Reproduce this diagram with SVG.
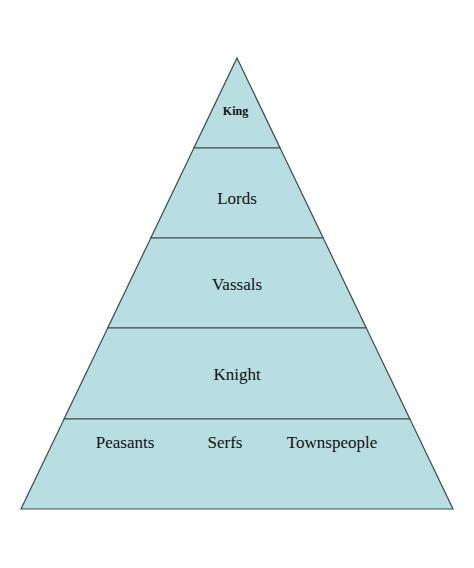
<svg xmlns="http://www.w3.org/2000/svg" width="474" height="568" viewBox="0 0 474 568">
<style>
.lvl{fill:#b9dee1;stroke:#3a4a4c;stroke-width:1.2}
.t{font-family:"Liberation Serif","Times New Roman",serif;font-size:17px;fill:#111;text-anchor:middle}
.k{font-size:12px;font-weight:bold}
</style>
<rect width="474" height="568" fill="#fff"/>
<g id="king"><polygon class="lvl" points="237,58 280.1,148 193.9,148"/><text class="t k" x="235.5" y="115">King</text></g>
<g id="lords"><polygon class="lvl" points="193.9,148 280.1,148 323.2,238 150.8,238"/><text class="t" x="237" y="204">Lords</text></g>
<g id="vassals"><polygon class="lvl" points="150.8,238 323.2,238 366.3,328 107.7,328"/><text class="t" x="237" y="290">Vassals</text></g>
<g id="knight"><polygon class="lvl" points="107.7,328 366.3,328 409.9,419 64.1,419"/><text class="t" x="237" y="380">Knight</text></g>
<g id="commoners"><polygon class="lvl" points="64.1,419 409.9,419 453,509 21,509"/>
<text class="t" x="125" y="447.5">Peasants</text>
<text class="t" x="225" y="447.5">Serfs</text>
<text class="t" x="332" y="447.5">Townspeople</text></g>
<g id="connectors"></g>
</svg>
